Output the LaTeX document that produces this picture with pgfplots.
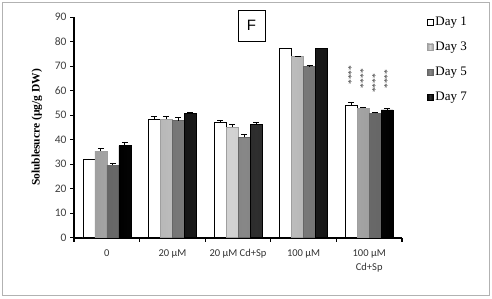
\documentclass[border=0pt]{standalone}
\usepackage{pgfplots}
\pgfplotsset{compat=1.18}
\usepackage{fontspec}
\setmainfont{Liberation Serif}
\newfontfamily\calfont{Carlito}
\newfontfamily\arsfont{Liberation Sans}
\begin{document}
\begin{tikzpicture}[x=1pt,y=1pt]
\useasboundingbox (0,0) rectangle (492,299);
\draw[gray!60, line width=1pt] (2.5,3) rectangle (489.5,296.5);
\node[draw=black, line width=0.8pt, minimum width=27pt, minimum height=31pt, inner sep=0pt, font=\arsfont\fontsize{15}{17}\selectfont] at (251.5,273.5) {F};
\node[rotate=90, font=\fontsize{11.5}{13}\selectfont\bfseries] at (37,171.5) {Solublesucre (µg/g DW)};
\begin{axis}[
  at={(74pt,61.2pt)}, anchor=south west,
  scale only axis, width=328pt, height=220.5pt,
  xmin=-0.5, xmax=4.5, ymin=0, ymax=90,
  ybar=0pt, bar width=12pt,
  axis lines*=left,
  axis line style={line width=1.6pt},
  ytick={0,10,...,90},
  xtick={0,1,2,3,4},
  xticklabels={0,20 µM,20 µM Cd+Sp,100 µM,{100 µM\\Cd+Sp}},
  minor xtick={-0.5,0.5,1.5,2.5,3.5,4.5},
  major x tick style={draw=none},
  tick align=outside, major tick length=4pt, minor tick length=4pt,
  tick style={line width=1.2pt, black},
  /pgf/number format/assume math mode=true,
  xticklabel style={font=\calfont\fontsize{10.5}{14}\selectfont, align=center, text=black!80, yshift=-4pt},
  yticklabel style={font=\calfont\fontsize{11.5}{13}\selectfont, text=black!75},
  clip=false,
  legend style={at={(1.075,1.012)}, anchor=north west, draw=none, fill=none,
    font=\fontsize{13}{15}\selectfont, row sep=11pt, inner sep=0pt,
    /tikz/every odd column/.append style={column sep=0pt}},
  legend cell align=left,
  legend image code/.code={\draw[#1, line width=0.6pt] (0pt,-3pt) rectangle (6pt,3pt);},
]
\pgfplotsset{
  mybar/.style={line width=0.6pt,
    error bars/.cd, y dir=plus, y explicit,
    error bar style={black, line width=0.8pt}, error mark options={rotate=90, black, mark size=3pt, line width=0.8pt},
    /pgfplots/.cd,
    legend image code/.code={\draw[##1, line width=0.6pt] (0pt,-3pt) rectangle (6pt,3pt);}},
}
\addplot[mybar, fill=white, draw=black] coordinates {
 (0,32.2) +- (0,0) (1,48.5) +- (0,1.1) (2,47.0) +- (0,0.8) (3,77.3) +- (0,0) (4,54.2) +- (0,1.1)};
\addlegendentry{Day 1}
\addplot[mybar, draw=gray!75, shading=axis, left color=gray!75, right color=gray!75, middle color=gray!35] coordinates {
 (0,35.4) +- (0,1.1) (1,48.4) +- (0,1.0) (2,45.1) +- (0,1.0) (3,73.9) +- (0,0.3) (4,52.9) +- (0,0.5)};
\addlegendentry{Day 3}
\addplot[mybar, draw=black!60, shading=axis, left color=black!60, right color=black!60, middle color=black!47] coordinates {
 (0,29.7) +- (0,0.5) (1,47.8) +- (0,1.2) (2,41.0) +- (0,1.0) (3,69.8) +- (0,0.4) (4,50.8) +- (0,0.5)};
\addlegendentry{Day 5}
\addplot[mybar, draw=black, shading=axis, left color=black, right color=black, middle color=black!82] coordinates {
 (0,37.6) +- (0,1.4) (1,50.8) +- (0,0.5) (2,46.4) +- (0,0.7) (3,77.3) +- (0,0) (4,52.2) +- (0,0.8)};
\addlegendentry{Day 7}
\node[rotate=90, font=\fontsize{9.5}{12}\selectfont, text=black!80] at (axis cs:3.726,66.4) {****};
\node[rotate=90, font=\fontsize{9.5}{12}\selectfont, text=black!80] at (axis cs:3.909,65.0) {****};
\node[rotate=90, font=\fontsize{9.5}{12}\selectfont, text=black!80] at (axis cs:4.091,63.0) {****};
\node[rotate=90, font=\fontsize{9.5}{12}\selectfont, text=black!80] at (axis cs:4.274,64.8) {****};
\end{axis}
\end{tikzpicture}
\end{document}
